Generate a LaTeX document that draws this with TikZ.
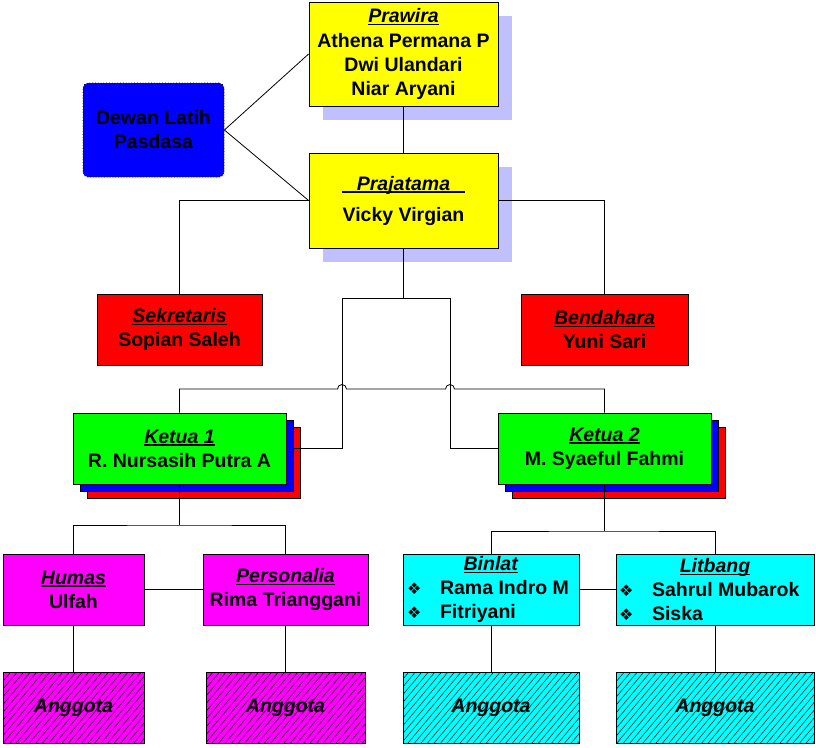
\documentclass[tikz,border=0pt]{standalone}
\usepackage{fontspec}
\setmainfont{Liberation Sans}
\newfontfamily\simbol{DejaVu Sans}
\usetikzlibrary{shadows,
	patterns.meta}
\definecolor{bayang}{RGB}{192,192,255}
\definecolor{kuning}{RGB}{255,255,0}
\definecolor{merah}{RGB}{255,0,0}
\definecolor{hijau}{RGB}{0,255,0}
\definecolor{biru}{RGB}{0,0,255}
\definecolor{ungu}{RGB}{255,0,255}
\definecolor{tosca}{RGB}{0,255,255}
\newsavebox\jabbox
% judul jabatan: miring dan bergaris bawah
\newcommand{\jab}[2][0pt]{\sbox\jabbox{\textit{#2}}%
  \makebox[\wd\jabbox]{\makebox[0pt]{\rule[-2.6pt]{\dimexpr\wd\jabbox+#1\relax}{1.4pt}}}%
  \hspace*{-\wd\jabbox}\usebox\jabbox}
\newcommand{\butir}[2]{\makebox[#1][l]{\makebox[33pt][l]{\simbol\fontsize{16}{24}\selectfont ❖}#2}}

\begin{document}
\begin{tikzpicture}[x=1pt,y=-1pt,font=\bfseries\fontsize{19.5}{24}\selectfont]
    \tikzstyle{kotak}=[draw,line width=0.8pt,align=center,inner sep=2pt,minimum height=71pt]
    \tikzstyle{bayangan}=[general shadow={shadow xshift=14pt,shadow yshift=-14pt,fill=bayang}]
    \tikzstyle{anggota}=[kotak,pattern={Lines[angle=50,distance=5pt,line width=0.45pt]},font=\bfseries\itshape\fontsize{19.5}{24}\selectfont]
    \tikzstyle{garis}=[line width=0.8pt]
    \useasboundingbox (0,0) rectangle (816,747);

    \node[kotak,bayangan,fill=kuning,minimum width=189pt,minimum height=104pt] (praw) at (403.5,54) {\jab{Prawira}\\[1pt]Athena Permana P\\Dwi Ulandari\\Niar Aryani};
    \node[kotak,bayangan,fill=kuning,minimum width=189pt,minimum height=95pt] (praj) at (403.5,200.5) {\jab[30pt]{Prajatama}\\[7pt]Vicky Virgian};
    \node[kotak,fill=biru,dotted,rounded corners=5pt,minimum width=141pt,minimum height=94pt] (dewan) at (153.5,130) {Dewan Latih\\Pasdasa};
    \node[kotak,fill=merah,minimum width=165pt] (sek) at (179.5,329.5) {\jab{Sekretaris}\\Sopian Saleh};
    \node[kotak,fill=merah,minimum width=167pt] (bend) at (604.5,329.5) {\jab{Bendahara}\\Yuni Sari};
    % tumpukan ketua
    \node[kotak,fill=merah,minimum width=213pt] (k1r) at (193.5,462.5) {};
    \node[kotak,fill=biru,minimum width=213pt] (k1b) at (186.5,455.5) {};
    \node[kotak,fill=hijau,minimum width=213pt] (k1) at (179.5,448.5) {\jab{Ketua 1}\\R. Nursasih Putra A};
    \node[kotak,fill=merah,minimum width=213pt] (k2r) at (618.5,462.5) {};
    \node[kotak,fill=biru,minimum width=213pt] (k2b) at (611.5,455.5) {};
    \node[kotak,fill=hijau,minimum width=213pt] (k2) at (604.5,448.5) {\jab{Ketua 2}\\M. Syaeful Fahmi};
    % seksi
    \node[kotak,fill=ungu,minimum width=141pt] (humas) at (73.5,589.5) {\jab{Humas}\\Ulfah};
    \node[kotak,fill=ungu,minimum width=165pt] (pers) at (285.5,589.5) {\jab{Personalia}\\Rima Trianggani};
    \node[kotak,fill=tosca,minimum width=176pt] (binlat) at (491,589.5) {\jab{Binlat}\\\butir{168pt}{Rama Indro M}\\\butir{168pt}{Fitriyani}};
    \node[kotak,fill=tosca,minimum width=198pt] (litbang) at (715,589.5) {\jab{Litbang}\\\butir{192pt}{Sahrul Mubarok}\\\butir{192pt}{Siska}};
    \node[anggota,preaction={fill=ungu},minimum width=141pt] (ag1) at (73.5,707.5) {Anggota};
    \node[anggota,preaction={fill=ungu},minimum width=159pt] (ag2) at (285.5,707.5) {Anggota};
    \node[anggota,preaction={fill=tosca},minimum width=176pt] (ag3) at (491,707.5) {Anggota};
    \node[anggota,preaction={fill=tosca},minimum width=198pt] (ag4) at (715,707.5) {Anggota};

    \coordinate (ka) at (342,298);
    \coordinate (kb) at (450,298);
    \coordinate (lompat1) at (337.5,389);
    \coordinate (lompat2) at (445.5,389);
    \coordinate (t1) at (179.5,525);
    \coordinate (t2) at (604.5,531);

    \draw[garis] (praw) -- (praj);
    \draw[garis] (dewan.east) -- (praw.west);
    \draw[garis] (dewan.east) -- (praj.west);
    \draw[garis] (sek) |- (praj) -| (bend);
    \draw[garis] (praj) -- (praj |- ka);
    \draw[garis] (k1b.east |- k1.east) -| (ka) -- (kb) |- (k2);
    \draw[garis] (k1) |- (lompat1) arc[start angle=180,end angle=360,radius=4.5] -- (lompat2) arc[start angle=180,end angle=360,radius=4.5] -| (k2);
    \draw[garis] (k1) -- (t1);
    \draw[garis] (humas) |- (t1) -| (pers);
    \draw[garis] (k2) -- (t2);
    \draw[garis] (binlat) |- (t2) -| (litbang);
    \draw[garis] (humas) -- (pers);
    \draw[garis] (binlat) -- (litbang);
    \draw[garis] (humas) -- (ag1);
    \draw[garis] (pers) -- (ag2);
    \draw[garis] (binlat) -- (ag3);
    \draw[garis] (litbang) -- (ag4);
\end{tikzpicture}
\end{document}
